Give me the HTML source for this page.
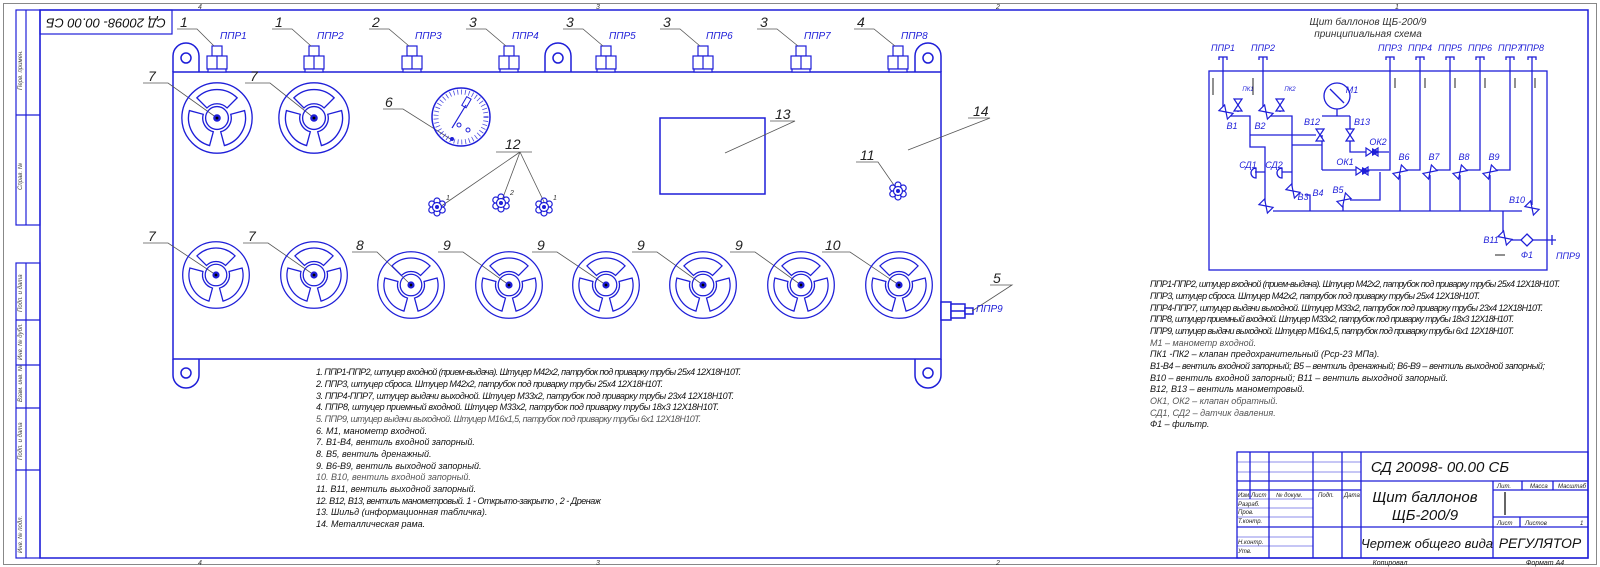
<!DOCTYPE html>
<html><head><meta charset="utf-8"><style>
html,body{margin:0;padding:0;background:#fff;}
svg{display:block;}
text{font-family:"Liberation Sans",sans-serif;font-style:italic;}
</style></head><body>
<svg width="1600" height="567" viewBox="0 0 1600 567" xmlns="http://www.w3.org/2000/svg">
<defs>
<symbol id="w" viewBox="-40 -40 80 80" overflow="visible">
 <g fill="none" stroke="#1e1ed8" stroke-width="1.4">
  <circle r="37"/><circle r="12"/>
  <path d="M-21.2,-21.2 A30,30 0 0 1 21.2,-21.2 L10.6,-10.6 A15,15 0 0 0 -10.6,-10.6 Z"/>
  <path d="M29,-7.8 A30,30 0 0 1 7.8,29 L3.9,14.5 A15,15 0 0 0 14.5,-3.9 Z"/>
  <path d="M-7.8,29 A30,30 0 0 1 -29,-7.8 L-14.5,-3.9 A15,15 0 0 0 -3.9,14.5 Z"/>
 </g>
 <circle r="4" fill="#1e1ed8"/><circle r="1.5" fill="#000"/>
</symbol>
<symbol id="fl" viewBox="-10 -10 20 20" overflow="visible">
 <g fill="none" stroke="#1e1ed8" stroke-width="1.2">
  <circle cx="0" cy="-6" r="3"/><circle cx="5.2" cy="-3" r="3"/><circle cx="5.2" cy="3" r="3"/>
  <circle cx="0" cy="6" r="3"/><circle cx="-5.2" cy="3" r="3"/><circle cx="-5.2" cy="-3" r="3"/>
  <circle r="4.5" fill="#fff"/>
 </g><circle r="2" fill="#1e1ed8"/>
</symbol>
<symbol id="fit" viewBox="-10 -26 20 26" overflow="visible">
 <g fill="#fff" stroke="#1e1ed8" stroke-width="1.2">
  <rect x="-5" y="-26" width="10" height="10"/>
  <rect x="-10" y="-16" width="20" height="13"/>
  <line x1="0" y1="-16" x2="0" y2="-3"/>
  <rect x="-9" y="-3" width="18" height="3"/>
 </g>
</symbol>
<symbol id="v" viewBox="-7 -5 14 10" overflow="visible">
 <path d="M-6,-4 L6,4 L6,-4 L-6,4 Z" fill="#fff" stroke="#1e1ed8" stroke-width="1.2"/>
</symbol>
</defs>

<!-- frames -->
<rect x="3.5" y="3.5" width="1593" height="561" fill="none" stroke="#888" stroke-width="1"/>
<rect x="40" y="10" width="1548" height="548" fill="none" stroke="#1e1ed8" stroke-width="1.5"/>
<g stroke="#1e1ed8" stroke-width="1.2" fill="none">
 <rect x="16" y="10" width="24" height="215"/><line x1="26" y1="10" x2="26" y2="225"/><line x1="16" y1="115" x2="40" y2="115"/>
 <rect x="16" y="263" width="24" height="295"/><line x1="26" y1="263" x2="26" y2="558"/>
 <line x1="16" y1="320" x2="40" y2="320"/><line x1="16" y1="365" x2="40" y2="365"/><line x1="16" y1="408" x2="40" y2="408"/><line x1="16" y1="470" x2="40" y2="470"/>
 <rect x="40" y="10" width="132" height="24"/>
</g>
<g font-size="6" fill="#444">
 <text transform="translate(22,90) rotate(-90)">Перв. примен.</text>
 <text transform="translate(22,190) rotate(-90)">Справ. №</text>
 <text transform="translate(22,312) rotate(-90)">Подп. и дата</text>
 <text transform="translate(22,360) rotate(-90)">Инв. № дубл.</text>
 <text transform="translate(22,402) rotate(-90)">Взам. инв. №</text>
 <text transform="translate(22,460) rotate(-90)">Подп. и дата</text>
 <text transform="translate(22,553) rotate(-90)">Инв. № подл.</text>
</g>
<text transform="translate(106,22) rotate(180)" font-size="13" fill="#111" text-anchor="middle" dominant-baseline="middle">СД 20098- 00.00 СБ</text>
<g font-size="7" fill="#333" text-anchor="middle">
 <text x="200" y="9">4</text><text x="598" y="9">3</text><text x="998" y="9">2</text><text x="1397" y="9">1</text>
 <text x="200" y="565">4</text><text x="598" y="565">3</text><text x="998" y="565">2</text>
</g>

<!-- panel -->
<g stroke="#1e1ed8" stroke-width="1.5" fill="#fff">
 <path d="M173,72 V56 a13,13 0 0 1 26,0 V72"/><circle cx="186" cy="58" r="5"/>
 <path d="M545,72 V56 a13,13 0 0 1 26,0 V72"/><circle cx="558" cy="58" r="5"/>
 <path d="M915,72 V56 a13,13 0 0 1 26,0 V72"/><circle cx="928" cy="58" r="5"/>
 <path d="M173,359 V375 a13,13 0 0 0 26,0 V359"/><circle cx="186" cy="373" r="5"/>
 <path d="M915,359 V375 a13,13 0 0 0 26,0 V359"/><circle cx="928" cy="373" r="5"/>
 <rect x="173" y="72" width="768" height="287"/>
 <rect x="660" y="118" width="105" height="76"/>
 <rect x="941" y="302" width="10" height="18"/><rect x="951" y="304" width="14" height="14"/><line x1="951" y1="311" x2="965" y2="311"/><rect x="965" y="308" width="8" height="6"/>
</g>
<g>
 <use href="#fit" x="207" y="46" width="20" height="26"/>
 <use href="#fit" x="304" y="46" width="20" height="26"/>
 <use href="#fit" x="402" y="46" width="20" height="26"/>
 <use href="#fit" x="499" y="46" width="20" height="26"/>
 <use href="#fit" x="596" y="46" width="20" height="26"/>
 <use href="#fit" x="693" y="46" width="20" height="26"/>
 <use href="#fit" x="791" y="46" width="20" height="26"/>
 <use href="#fit" x="888" y="46" width="20" height="26"/>
</g>
<!-- leaders top -->
<g stroke="#555" stroke-width="0.8" fill="none">
 <path d="M177,29 H197 L214,46"/><path d="M272,29 H292 L311,46"/><path d="M369,29 H389 L409,46"/><path d="M466,29 H486 L506,46"/>
 <path d="M563,29 H583 L603,46"/><path d="M660,29 H680 L700,46"/><path d="M757,29 H777 L798,46"/><path d="M854,29 H874 L895,46"/>
 <path d="M143,83 H168 L217,118"/><path d="M245,83 H270 L314,118"/>
 <path d="M383,109 H403 L452,140"/>
 <path d="M496,152 H532 M520,152 L440,207 M520,152 L502,200 M520,152 L545,204"/>
 <path d="M770,121 H795 L725,153"/>
 <path d="M968,118 H990 L908,150"/>
 <path d="M856,162 H878 L898,191"/>
 <path d="M143,243 H168 L216,275"/><path d="M243,243 H268 L314,275"/>
 <path d="M352,252 H377 L411,285"/><path d="M438,252 H463 L509,285"/><path d="M532,252 H557 L606,285"/>
 <path d="M632,252 H657 L703,285"/><path d="M730,252 H755 L801,285"/><path d="M822,252 H850 L899,285"/>
 <path d="M990,285 H1012 L972,311"/>
</g>
<g font-size="14" fill="#222">
 <text x="180" y="27">1</text><text x="275" y="27">1</text><text x="372" y="27">2</text><text x="469" y="27">3</text>
 <text x="566" y="27">3</text><text x="663" y="27">3</text><text x="760" y="27">3</text><text x="857" y="27">4</text>
 <text x="148" y="81">7</text><text x="250" y="81">7</text><text x="385" y="107">6</text><text x="505" y="149">12</text>
 <text x="775" y="119">13</text><text x="973" y="116">14</text><text x="860" y="160">11</text>
 <text x="148" y="241">7</text><text x="248" y="241">7</text><text x="356" y="250">8</text><text x="443" y="250">9</text>
 <text x="537" y="250">9</text><text x="637" y="250">9</text><text x="735" y="250">9</text><text x="825" y="250">10</text>
 <text x="993" y="283">5</text>
</g>
<g font-size="10" fill="#1e1ed8">
 <text x="220" y="39">ППР1</text><text x="317" y="39">ППР2</text><text x="415" y="39">ППР3</text><text x="512" y="39">ППР4</text>
 <text x="609" y="39">ППР5</text><text x="706" y="39">ППР6</text><text x="804" y="39">ППР7</text><text x="901" y="39">ППР8</text>
 <text x="976" y="312">ППР9</text>
</g>
<!-- wheels -->
<use href="#w" x="179" y="80" width="76" height="76"/>
<use href="#w" x="276" y="80" width="76" height="76"/>
<use href="#w" x="179" y="239" width="74" height="72"/>
<use href="#w" x="277" y="239" width="74" height="72"/>
<use href="#w" x="374" y="249" width="74" height="72"/>
<use href="#w" x="472" y="249" width="74" height="72"/>
<use href="#w" x="569" y="249" width="74" height="72"/>
<use href="#w" x="666" y="249" width="74" height="72"/>
<use href="#w" x="764" y="249" width="74" height="72"/>
<use href="#w" x="862" y="249" width="74" height="72"/>
<!-- gauge -->
<g stroke="#1e1ed8" fill="none">
 <circle cx="461" cy="117" r="29" stroke-width="1.5"/>
 <circle cx="461" cy="117" r="25" stroke-width="5" stroke-dasharray="0.8 3" stroke-opacity="0.8"/>
 <line x1="452" y1="128" x2="466" y2="105" stroke-width="1.2"/><rect x="464" y="97" width="5" height="10" transform="rotate(30 466 102)" stroke-width="1"/>
 <circle cx="459" cy="125" r="2" stroke-width="1"/><circle cx="468" cy="130" r="2" stroke-width="1"/>
</g>
<circle cx="452" cy="139" r="2" fill="#1e1ed8"/>
<use href="#fl" x="427" y="197" width="20" height="20"/>
<use href="#fl" x="491" y="193" width="20" height="20"/>
<use href="#fl" x="534" y="197" width="20" height="20"/>
<use href="#fl" x="888" y="181" width="20" height="20"/>
<g font-size="7" fill="#333"><text x="446" y="200">1</text><text x="510" y="195">2</text><text x="553" y="200">1</text></g>

<!-- notes -->
<g font-size="9" fill="#111">
 <text x="316" y="375" textLength="425">1. ППР1-ППР2, штуцер входной (прием-выдача). Штуцер М42х2, патрубок под приварку трубы 25х4 12Х18Н10Т.</text>
 <text x="316" y="387" textLength="347">2. ППР3, штуцер сброса. Штуцер М42х2, патрубок под приварку трубы 25х4 12Х18Н10Т.</text>
 <text x="316" y="399" textLength="418">3. ППР4-ППР7, штуцер выдачи выходной. Штуцер М33х2, патрубок под приварку трубы 23х4 12Х18Н10Т.</text>
 <text x="316" y="410" textLength="403">4. ППР8, штуцер приемный входной. Штуцер М33х2, патрубок под приварку трубы 18х3 12Х18Н10Т.</text>
 <text x="316" y="422" textLength="385" fill="#555">5. ППР9, штуцер выдачи выходной. Штуцер М16х1,5, патрубок под приварку трубы 6х1 12Х18Н10Т.</text>
 <text x="316" y="434">6. М1, манометр входной.</text>
 <text x="316" y="445">7. В1-В4, вентиль входной запорный.</text>
 <text x="316" y="457">8. В5, вентиль дренажный.</text>
 <text x="316" y="469">9. В6-В9, вентиль выходной запорный.</text>
 <text x="316" y="480" fill="#555">10. В10, вентиль входной запорный.</text>
 <text x="316" y="492">11. В11, вентиль выходной запорный.</text>
 <text x="316" y="504" textLength="285">12. В12, В13, вентиль манометровый. 1 - Открыто-закрыто , 2 - Дренаж</text>
 <text x="316" y="515">13. Шильд (информационная табличка).</text>
 <text x="316" y="527">14. Металлическая рама.</text>
</g>

<!-- schematic -->
<g font-size="10" fill="#333" text-anchor="middle">
 <text x="1368" y="25">Щит баллонов ЩБ-200/9</text>
 <text x="1368" y="37">принципиальная схема</text>
</g>
<g stroke="#1e1ed8" stroke-width="1.3" fill="none">
 <rect x="1209" y="71" width="338" height="199"/>
 <path d="M1219,60 v-3 h8 v3 M1259,60 v-3 h8 v3 M1386,60 v-3 h8 v3 M1416,60 v-3 h8 v3 M1446,60 v-3 h8 v3 M1476,60 v-3 h8 v3 M1506,60 v-3 h8 v3 M1528,60 v-3 h8 v3"/>
 <path d="M1223,57 V108 M1263,57 V108 M1390,57 V170 H1322 M1420,57 V170 H1404 M1450,57 V170 H1434 M1480,57 V170 H1464 M1510,57 V170 H1494 M1532,57 V205"/>
 <path d="M1273,211 H1522 M1400,211 V175 M1430,211 V175 M1460,211 V175 M1490,211 V175"/>
 <path d="M1229,116 H1250 V147 H1265 V205 M1250,135 H1316 M1269,116 H1292 V190 M1292,145 H1322 M1322,135 V170"/>
 <path d="M1350,116 V152 H1389 M1322,116 H1350 M1337,109 V116"/>
 <path d="M1350,200 H1380 V172 M1305,195 H1310 V211 M1343,205 V211"/>
 <path d="M1503,211 V235 M1512,240 H1521 M1533,240 H1547 H1556 M1552,235 v10"/>
 <path d="M1238,112 V100 M1280,112 V100 M1265,172 H1255 M1292,172 H1282"/>
 <circle cx="1337" cy="96" r="13"/><line x1="1330" y1="89" x2="1344" y2="103"/>
 <path d="M1256,168 a5,5 0 0 0 0,10 Z M1282,168 a5,5 0 0 0 0,10 Z"/>
 <path d="M1527,234 L1533,240 L1527,246 L1521,240 Z"/>
</g>
<g>
 <use href="#v" x="1219" y="107" width="14" height="10" transform="rotate(45 1226 112)"/>
 <use href="#v" x="1259" y="107" width="14" height="10" transform="rotate(45 1266 112)"/>
 <use href="#v" x="1231" y="100" width="14" height="10" transform="rotate(-90 1238 105)"/>
 <use href="#v" x="1273" y="100" width="14" height="10" transform="rotate(-90 1280 105)"/>
 <use href="#v" x="1313" y="130" width="14" height="10" transform="rotate(90 1320 135)"/>
 <use href="#v" x="1343" y="130" width="14" height="10" transform="rotate(90 1350 135)"/>
 <use href="#v" x="1365" y="147" width="14" height="10"/>
 <use href="#v" x="1355" y="166" width="14" height="10"/>
 <use href="#v" x="1259" y="201" width="14" height="10" transform="rotate(45 1266 206)"/>
 <use href="#v" x="1286" y="186" width="14" height="10" transform="rotate(45 1293 191)"/>
 <use href="#v" x="1337" y="195" width="14" height="10" transform="rotate(-45 1344 200)"/>
 <use href="#v" x="1393" y="167" width="14" height="10" transform="rotate(-45 1400 172)"/>
 <use href="#v" x="1423" y="167" width="14" height="10" transform="rotate(-45 1430 172)"/>
 <use href="#v" x="1453" y="167" width="14" height="10" transform="rotate(-45 1460 172)"/>
 <use href="#v" x="1483" y="167" width="14" height="10" transform="rotate(-45 1490 172)"/>
 <use href="#v" x="1525" y="203" width="14" height="10" transform="rotate(45 1532 208)"/>
 <use href="#v" x="1498" y="233" width="14" height="10" transform="rotate(45 1505 238)"/>
</g>
<path d="M1372,148 L1380,152 L1372,156 Z M1362,167 L1370,171 L1362,175 Z" fill="#1e1ed8"/>
<g font-size="9" fill="#1e1ed8" text-anchor="middle">
 <text x="1223" y="51">ППР1</text><text x="1263" y="51">ППР2</text><text x="1390" y="51">ППР3</text><text x="1420" y="51">ППР4</text>
 <text x="1450" y="51">ППР5</text><text x="1480" y="51">ППР6</text><text x="1510" y="51">ППР7</text><text x="1532" y="51">ППР8</text>
 <text x="1232" y="129">В1</text><text x="1260" y="129">В2</text><text x="1352" y="93">М1</text>
 <text x="1312" y="125">В12</text><text x="1362" y="125">В13</text><text x="1378" y="145">ОК2</text><text x="1345" y="165">ОК1</text>
 <text x="1248" y="168">СД1</text><text x="1274" y="168">СД2</text><text x="1303" y="200">В3</text><text x="1318" y="196">В4</text>
 <text x="1338" y="193">В5</text><text x="1404" y="160">В6</text><text x="1434" y="160">В7</text><text x="1464" y="160">В8</text>
 <text x="1494" y="160">В9</text><text x="1517" y="203">В10</text><text x="1491" y="243">В11</text><text x="1527" y="258">Ф1</text>
 <text x="1568" y="259">ППР9</text>
 <text x="1248" y="91" font-size="6">ПК1</text><text x="1290" y="91" font-size="6">ПК2</text>
</g>
<g stroke="#222" stroke-width="1">
 <path d="M1213,78 V95 M1253,78 V95 M1395,78 V88 M1425,78 V88 M1455,78 V88 M1485,78 V88 M1515,78 V88 M1535,78 V88 M1505,255 H1495"/>
</g>

<!-- right notes -->
<g font-size="9" fill="#111">
 <text x="1150" y="287" textLength="410">ППР1-ППР2, штуцер входной (прием-выдача). Штуцер М42х2, патрубок под приварку трубы 25х4 12Х18Н10Т.</text>
 <text x="1150" y="299" textLength="330">ППР3, штуцер сброса. Штуцер М42х2, патрубок под приварку трубы 25х4 12Х18Н10Т.</text>
 <text x="1150" y="311" textLength="393">ППР4-ППР7, штуцер выдачи выходной. Штуцер М33х2, патрубок под приварку трубы 23х4 12Х18Н10Т.</text>
 <text x="1150" y="322" textLength="364">ППР8, штуцер приемный входной. Штуцер М33х2, патрубок под приварку трубы 18х3 12Х18Н10Т.</text>
 <text x="1150" y="334" textLength="364">ППР9, штуцер выдачи выходной. Штуцер М16х1,5, патрубок под приварку трубы 6х1 12Х18Н10Т.</text>
 <text x="1150" y="346" fill="#555">М1 – манометр входной.</text>
 <text x="1150" y="357">ПК1 -ПК2 – клапан предохранительный (Рср-23 МПа).</text>
 <text x="1150" y="369" textLength="395">В1-В4 – вентиль входной запорный; В5 – вентиль дренажный; В6-В9 – вентиль выходной запорный;</text>
 <text x="1150" y="381">В10 – вентиль входной запорный; В11 – вентиль выходной запорный.</text>
 <text x="1150" y="392">В12, В13 – вентиль манометровый.</text>
 <text x="1150" y="404" fill="#555">ОК1, ОК2 – клапан обратный.</text>
 <text x="1150" y="416" fill="#555">СД1, СД2 – датчик давления.</text>
 <text x="1150" y="427">Ф1 – фильтр.</text>
</g>

<!-- title block -->
<g stroke="#1e1ed8" stroke-width="1.3" fill="none">
 <rect x="1237" y="452" width="351" height="106"/>
 <path d="M1250,452 V499 M1269,452 V558 M1313,452 V558 M1342,452 V558 M1361,452 V558"/>
 <path d="M1237,481 H1361 M1237,490 H1361 M1237,527 H1588 M1361,481 H1588 M1493,481 V558 M1493,490 H1588 M1493,517 H1588"/>
 <path d="M1522,481 V490 M1553,481 V490 M1520,527 V517"/>
</g>
<g stroke="#1e1ed8" stroke-width="0.6" fill="none">
 <path d="M1237,462 H1361 M1237,472 H1361 M1237,499 H1313 M1237,508 H1313 M1237,517 H1313 M1237,537 H1313 M1237,546 H1313"/>
</g>
<g stroke="#000" stroke-width="1.2"><path d="M1505,492 V515"/></g>
<g font-size="6" fill="#222">
 <text x="1238" y="497">Изм.</text><text x="1251" y="497">Лист</text><text x="1276" y="497">№ докум.</text><text x="1318" y="497">Подп.</text><text x="1344" y="497">Дата</text>
 <text x="1238" y="506">Разраб.</text><text x="1238" y="514">Пров.</text><text x="1238" y="523">Т.контр.</text>
 <text x="1238" y="544">Н.контр.</text><text x="1238" y="553">Утв.</text>
 <text x="1497" y="488">Лит.</text><text x="1530" y="488">Масса</text><text x="1558" y="488">Масштаб</text>
 <text x="1497" y="525">Лист</text><text x="1525" y="525">Листов</text><text x="1580" y="525">1</text>
</g>
<g fill="#111" text-anchor="middle">
 <text x="1440" y="472" font-size="15">СД 20098- 00.00 СБ</text>
 <text x="1425" y="502" font-size="15">Щит баллонов</text>
 <text x="1425" y="520" font-size="15">ЩБ-200/9</text>
 <text x="1427" y="548" font-size="13">Чертеж общего вида</text>
 <text x="1540" y="548" font-size="14">РЕГУЛЯТОР</text>
 <text x="1390" y="565" font-size="7">Копировал</text>
 <text x="1545" y="565" font-size="7">Формат А4</text>
</g>
</svg>
</body></html>
